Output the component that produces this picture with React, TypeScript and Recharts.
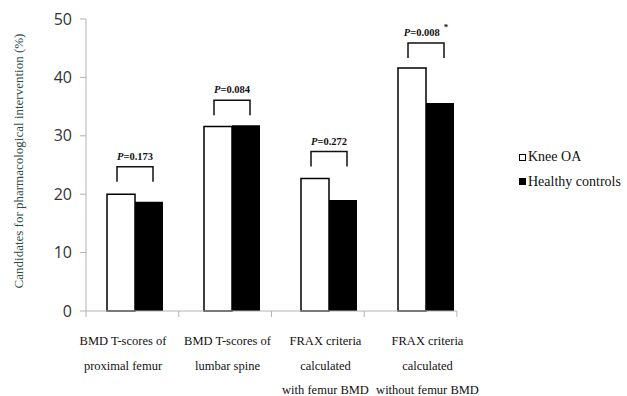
import React from 'react';
import { BarChart, Bar, XAxis, YAxis, LabelList } from 'recharts';

const categories = [
  ['BMD T-scores of', 'proximal femur'],
  ['BMD T-scores of', 'lumbar spine'],
  ['FRAX criteria', 'calculated', 'with femur BMD'],
  ['FRAX criteria', 'calculated', 'without femur BMD'],
];
const kneeOA = [20.0, 31.6, 22.7, 41.6];
const healthy = [18.7, 31.8, 19.0, 35.6];
const pValues = ['0.173', '0.084', '0.272', '0.008'];
const pMarks = ['', '', '', '*'];
const bracketTops = [24.7, 36.1, 27.3, 45.9];
const yTicks = [0, 10, 20, 30, 40, 50];
const seriesNames = ['Knee OA', 'Healthy controls'];

const data = categories.map((c, i) => ({
  name: c.join(' '),
  knee: kneeOA[i],
  healthy: healthy[i],
}));

const serif = "'Liberation Serif', 'Times New Roman', serif";

// label nudges so the multi-line tick text sits like the original
const labelShift = [-11.5, -4, -3, 2];
// the original's axis tick marks are a bit tighter than the bar spacing
const axisTickRatio = 0.956;

function CategoryTick(props: any) {
  const { x, y, payload, index } = props;
  const half = payload?.offset || 48.5;
  const band = half * 2;
  const left = x - half - index * band;
  const step = band * axisTickRatio;
  const tx = left + index * step;
  const lines = categories[index] || [];
  const last = index === categories.length - 1;
  return (
    <g>
      <line x1={tx} y1={y - 8} x2={tx} y2={y - 2} stroke="#b3b3b3" />
      <line x1={tx} y1={y - 8} x2={tx + step} y2={y - 8} stroke="#b3b3b3" />
      {last && <line x1={tx + step} y1={y - 8} x2={tx + step} y2={y - 2} stroke="#b3b3b3" />}
      {lines.map((t, k) => (
        <text key={k} x={x + labelShift[index]} y={y + 26 + k * 24.5} textAnchor="middle"
          fontFamily={serif} fontSize={12.5} fill="#111">{t}</text>
      ))}
    </g>
  );
}

function Bracket(props: any) {
  const { x, y, width, height, value, index } = props;
  if (!value) return null;
  const perUnit = height / value;
  const base = y + height;
  const top = base - bracketTops[index] * perUnit;
  const cx = x + width;
  const l = cx - 18;
  const r = cx + 18;
  return (
    <g>
      <path d={`M${l},${top + 15} L${l},${top} L${r},${top} L${r},${top + 15}`} fill="none" stroke="#111" strokeWidth={1.5} />
      <text x={cx} y={top - 7} textAnchor="middle" fontFamily={serif} fontSize={10.5} fontWeight={700} fill="#111">
        <tspan fontStyle="italic">P</tspan>={pValues[index]}
        {pMarks[index] && <tspan dx={4} dy={-6} fontSize={9}>{pMarks[index]}</tspan>}
      </text>
    </g>
  );
}

function YLabel(props: any) {
  const vb = props.viewBox || { y: 19, height: 292 };
  const cy = vb.y + vb.height / 2 - 4;
  return (
    <text x={20} y={cy} transform={`rotate(-90, 20, ${cy})`} textAnchor="middle" dominantBaseline="middle"
      fontFamily={serif} fontSize={13} fill="#2f4a4a">
      Candidates for pharmacological intervention (%)
    </text>
  );
}

function LegendBox() {
  const fills = ['#fff', '#000'];
  return (
    <div style={{ position: 'absolute', left: 519, top: 145, fontFamily: serif, fontSize: 14, color: '#111' }}>
      {seriesNames.map((label, i) => (
        <div key={label} style={{ display: 'flex', alignItems: 'center', height: 24.5 }}>
          <span style={{ display: 'inline-block', width: 5, height: 5, background: fills[i], border: '1.5px solid #000', marginRight: 2 }} />
          {label}
        </div>
      ))}
    </div>
  );
}

export default function App() {
  return (
    <div style={{ position: 'absolute', left: 0, top: 0, width: 627, height: 396, background: '#fff' }}>
      <BarChart width={627} height={396} data={data} margin={{ top: 19, right: 153, bottom: 0, left: 0 }}
        barGap={0} barSize={28}>
        <YAxis width={86} domain={[0, 50]} ticks={yTicks} interval={0}
          axisLine={{ stroke: '#b3b3b3' }} tickLine={{ stroke: '#b3b3b3' }} tickSize={6} tickMargin={8}
          tick={{ fontFamily: "'Open Sans', sans-serif", fontSize: 16, fill: '#333' }}
          label={<YLabel />} />
        <XAxis dataKey="name" height={85} axisLine={false} tickLine={false}
          interval={0} tick={<CategoryTick />} />
        <Bar dataKey="knee" name={seriesNames[0]} fill="#fff" stroke="#000" strokeWidth={1.5} isAnimationActive={false}>
          <LabelList dataKey="knee" content={<Bracket />} />
        </Bar>
        <Bar dataKey="healthy" name={seriesNames[1]} fill="#000" isAnimationActive={false} />
      </BarChart>
      <LegendBox />
    </div>
  );
}
